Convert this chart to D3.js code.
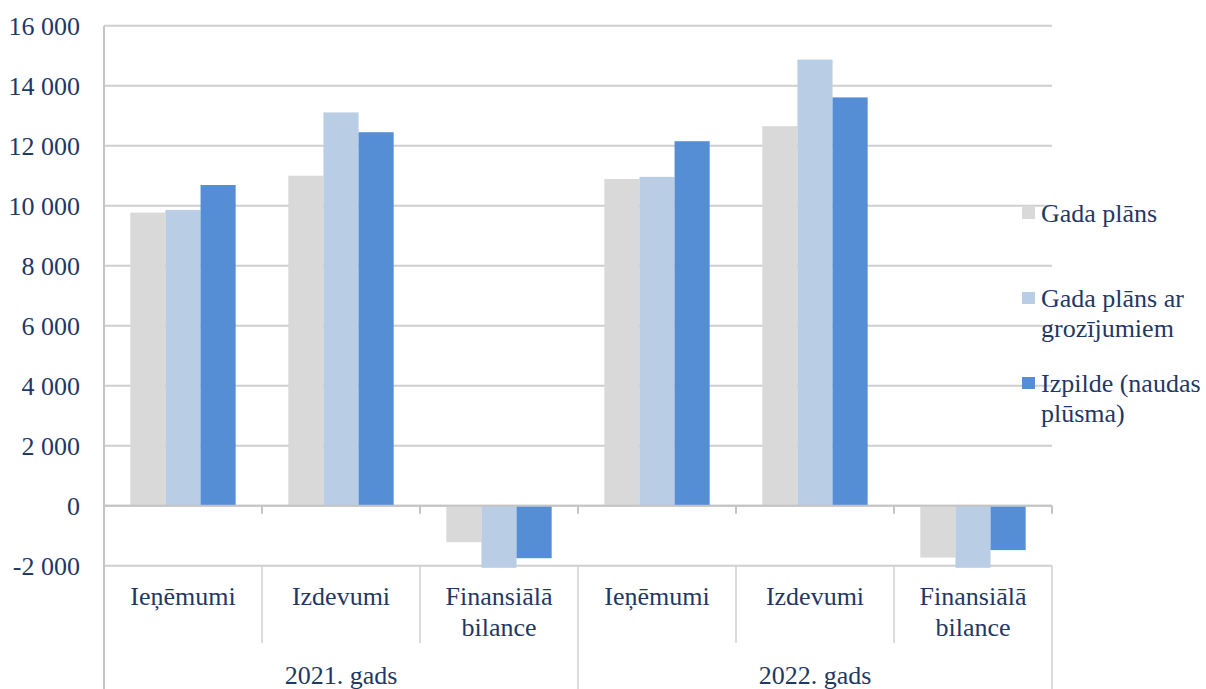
<!DOCTYPE html>
<html>
<head>
<meta charset="utf-8">
<script src="https://cdn.jsdelivr.net/npm/d3@7"></script>
<style>
body { margin: 0; background: #fff; }
text { font-family: "Liberation Serif", "Times New Roman", serif; fill: #1F3864; font-size: 26px; }
</style>
</head>
<body>
<div class="chart"></div>
<script>
var years = ["2021. gads", "2022. gads"];
var categories = ["Ieņēmumi", "Izdevumi", "Finansiālā bilance"];
var seriesNames = ["Gada plāns", "Gada plāns ar grozījumiem", "Izpilde (naudas plūsma)"];
var gadaPlans = [9770, 11000, -1220, 10890, 12650, -1730];
var gadaPlansGroz = [9860, 13110, -2070, 10960, 14870, -2070];
var izpilde = [10690, 12450, -1750, 12150, 13610, -1480];
var yTicks = [-2000, 0, 2000, 4000, 6000, 8000, 10000, 12000, 14000, 16000];

var colors = ["#D9D9D9", "#B9CDE5", "#558ED5"];
var series = [gadaPlans, gadaPlansGroz, izpilde];

var W = 1206, H = 689;
var plotLeft = 104, plotRight = 1052, plotTop = 25.7, plotBottom = 565.7;

var svg = d3.select(".chart").append("svg")
	.attr("width", W)
	.attr("height", H);

function addText(x, y, str, anchor) {
	return svg.append("text")
		.attr("x", x).attr("y", y)
		.attr("text-anchor", anchor || "start")
		.text(str);
}

var y = d3.scaleLinear().domain([-2000, 16000]).range([plotBottom, plotTop]);

var slots = [];
years.forEach(function(yr, i) {
	categories.forEach(function(c, j) { slots.push(i * 3 + j); });
});
var x = d3.scaleBand().domain(slots).range([plotLeft, plotRight]).padding(0);
var xs = d3.scaleBand().domain([0, 1, 2]).range([0, x.bandwidth()]).paddingInner(0).paddingOuter(0.75);

var loc = d3.formatLocale({decimal: ",", thousands: " ", grouping: [3], currency: ["", ""], minus: "-"});
var fmt = loc.format(",");

// gridlines
svg.append("g").selectAll("line").data(yTicks).enter().append("line")
	.attr("x1", plotLeft).attr("x2", plotRight)
	.attr("y1", function(d) { return y(d); }).attr("y2", function(d) { return y(d); })
	.attr("stroke", "#CFCFCF").attr("stroke-width", 2);

// y labels
yTicks.forEach(function(d) {
	addText(80, y(d) + 9, fmt(d), "end");
});

// bars
series.forEach(function(s, k) {
	svg.append("g").selectAll("rect").data(s).enter().append("rect")
		.attr("x", function(d, i) { return x(i) + xs(k); })
		.attr("width", xs.bandwidth())
		.attr("y", function(d) { return y(Math.max(0, d)); })
		.attr("height", function(d) { return Math.abs(y(d) - y(0)); })
		.attr("fill", colors[k]);
});

// zero axis line with ticks
svg.append("line").attr("x1", plotLeft).attr("x2", plotRight).attr("y1", y(0)).attr("y2", y(0))
	.attr("stroke", "#C4C4C4").attr("stroke-width", 2);
var bounds = slots.map(function(d) { return x(d); }).concat([plotRight]);
svg.append("g").selectAll("line").data(bounds.slice(1)).enter().append("line")
	.attr("x1", function(d) { return d; }).attr("x2", function(d) { return d; })
	.attr("y1", y(0)).attr("y2", y(0) + 8)
	.attr("stroke", "#C4C4C4").attr("stroke-width", 2);

// vertical axis
svg.append("line").attr("x1", plotLeft).attr("x2", plotLeft).attr("y1", plotTop).attr("y2", H)
	.attr("stroke", "#C4C4C4").attr("stroke-width", 2);

// category separators
svg.append("g").selectAll("line").data(bounds.slice(1)).enter().append("line")
	.attr("x1", function(d) { return d; }).attr("x2", function(d) { return d; })
	.attr("y1", plotBottom)
	.attr("y2", function(d, i) { return (i % 3 == 2) ? H : 643; })
	.attr("stroke", "#D0D0D0").attr("stroke-width", 1.5);

// category labels
slots.forEach(function(s) {
	var name = categories[s % 3];
	var cx = x(s) + x.bandwidth() / 2;
	if (name == "Finansiālā bilance") {
		addText(cx, 605, "Finansiālā", "middle");
		addText(cx, 636, "bilance", "middle");
	} else {
		addText(cx, 605, name, "middle");
	}
});
years.forEach(function(yr, i) {
	var cx = x(i * 3) + x.bandwidth() * 1.5;
	addText(cx, 684, yr, "middle");
});

// legend
var legendLines = [["Gada plāns"], ["Gada plāns ar", "grozījumiem"], ["Izpilde (naudas", "plūsma)"]];
var legendY = [222, 307, 392];
legendLines.forEach(function(lines, k) {
	svg.append("rect").attr("x", 1022).attr("y", legendY[k] - 15).attr("width", 13).attr("height", 12)
		.attr("fill", colors[k]);
	lines.forEach(function(l, j) {
		addText(1041, legendY[k] + j * 30, l, "start");
	});
});
</script>
</body>
</html>
